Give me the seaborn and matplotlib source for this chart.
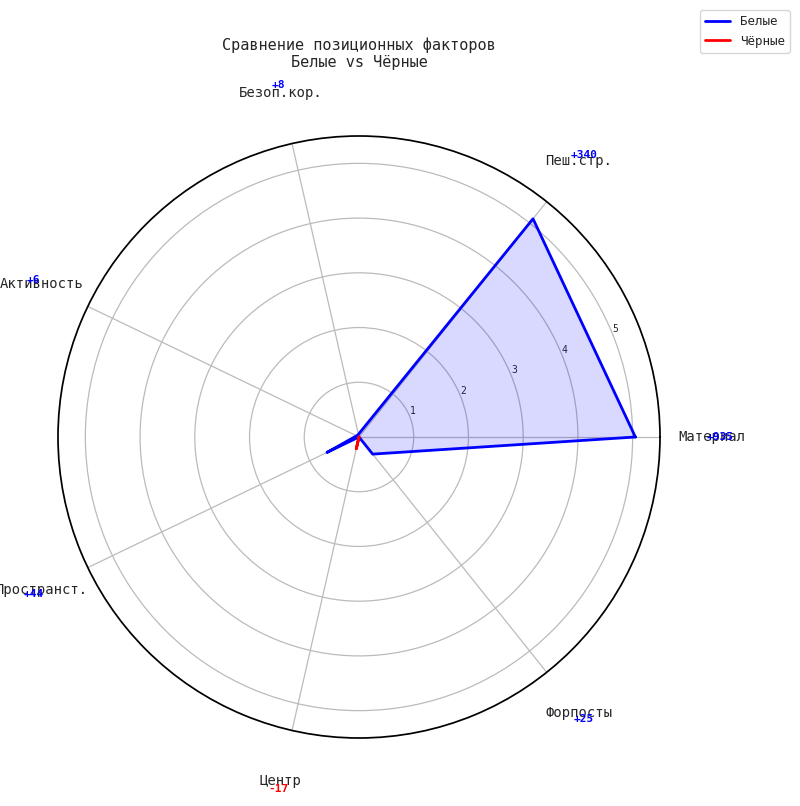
import numpy as np
import matplotlib.pyplot as plt
import seaborn as sns

categories = ["Материал", "Пеш.стр.", "Безоп.кор.", "Активность", "Пространст.", "Центр", "Форпосты"]
white_vals = [5.05, 5.1, 0.05, 0.05, 0.65, 0.0, 0.4]
black_vals = [0.0, 0.0, 0.0, 0.0, 0.0, 0.22, 0.0]
diffs = ["+935", "+340", "+8", "+6", "+44", "-17", "+25"]

sns.set_theme(style="white")
plt.rcParams['font.family'] = ['DejaVu Sans Mono', 'DejaVu Sans']

n = len(categories)
angles = np.linspace(0, 2 * np.pi, n, endpoint=False)
ang_c = np.concatenate([angles, angles[:1]])

fig = plt.figure(figsize=(8, 8.06), dpi=100)
ax = fig.add_axes([58 / 800, (806 - 738) / 806, 602 / 800, 602 / 806], projection="polar")

w = white_vals + white_vals[:1]
b = black_vals + black_vals[:1]
ax.plot(ang_c, w, color="blue", lw=2, label="Белые")
ax.fill(ang_c, w, color="blue", alpha=0.15)
ax.plot(ang_c, b, color="red", lw=2, label="Чёрные")
ax.fill(ang_c, b, color="red", alpha=0.15)

ax.set_ylim(0, 5.5)
ax.set_yticks([1, 2, 3, 4, 5])
ax.set_yticklabels(["1", "2", "3", "4", "5"], fontsize=7)
ax.set_rlabel_position(22)
ax.set_xticks(angles)
ax.set_xticklabels(categories, fontsize=10)
ax.tick_params(axis="x", pad=24)
ax.grid(True, color="#bbbbbb", lw=0.9)
ax.spines["polar"].set_color("black")

for a, d in zip(angles, diffs):
    col = "red" if d.startswith("-") else "blue"
    ax.text(a, 6.6, d, color=col, fontsize=8, fontweight="bold",
            ha="center", va="center", clip_on=False)

ax.set_title("Сравнение позиционных факторов\nБелые vs Чёрные", fontsize=11, pad=14)
fig.legend(loc="upper right", bbox_to_anchor=(0.995, 0.995), fontsize=9)

fig.savefig("out.png", dpi=100)
